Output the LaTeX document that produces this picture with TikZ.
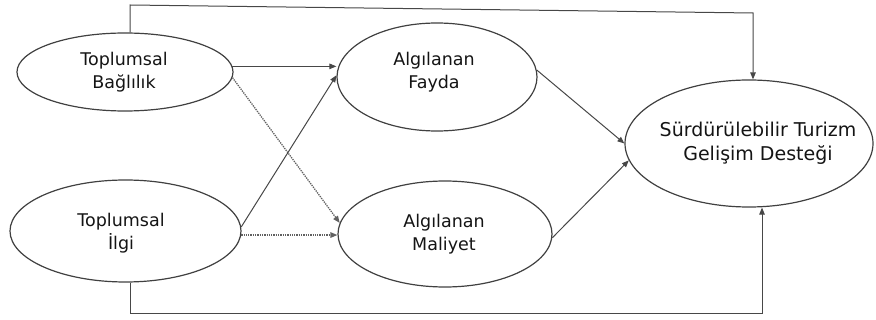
\documentclass[tikz,border=0pt]{standalone}
\usepackage{fontspec}
\setmainfont{DejaVu Sans}
\usetikzlibrary{shapes.geometric,arrows.meta}
\begin{document}
\begin{tikzpicture}[x=1pt,y=-1pt,
  ell/.style={ellipse, draw=black!75, line width=1.2pt, inner sep=0pt},
  txt/.style={align=center, inner sep=0pt, text=black!92,
    font=\fontsize{17.5}{23}\selectfont},
  bigtxt/.style={txt, font=\fontsize{19}{24}\selectfont},
  conn/.style={draw=black!72, line width=1pt,
    -{Triangle[length=7pt,width=5.5pt]}},
  dotconn/.style={conn, draw=black!62, line width=1.3pt, densely dotted}]
\useasboundingbox (0,0) rectangle (876,320);
% ellipses
\node[ell, minimum width=216pt, minimum height=78pt]  (e1) at (125,72) {};
\node[ell, minimum width=231pt, minimum height=102pt] (e2) at (125.5,231) {};
\node[ell, minimum width=200pt, minimum height=108pt] (e3) at (437,77) {};
\node[ell, minimum width=214pt, minimum height=106pt] (e4) at (445,234) {};
\node[ell, minimum width=248pt, minimum height=127pt] (e5) at (749,143.5) {};
% texts
\node[txt] (t1) at (124,72) {Toplumsal\\Bağlılık};
\node[txt] (t2) at (121,233) {Toplumsal\\İlgi};
\node[txt] (t3) at (434,72) {Algılanan\\Fayda};
\node[txt] (t4) at (444,234) {Algılanan\\Maliyet};
\node[bigtxt] (t5) at (758,143) {Sürdürülebilir Turizm\\Gelişim Desteği};
% routing coordinates
\coordinate (c1) at (130,5);
\coordinate (c2) at (753,13);
\coordinate (c3) at (130,314);
\coordinate (c4) at (762,314);
% direct effects to the outcome
\draw[conn] (e1.north -| c1) -- (c1) -- (c2) -- (c2 |- e5.north);
\draw[conn] (e2.south -| c3) -- (c3) -- (c4) -- (c4 |- e5.south);
% paths
\draw[conn] (e1.3) -- (e1.3 -| e3.west);
\draw[dotconn] (e1.-3) -- (e4.174);
\draw[conn] (e2.2) -- (e3.179);
\draw[dotconn] (e2.-2) -- (e2.-2 -| e4.west);
\draw[conn] (e3.4) -- (e5.180);
\draw[conn] (e4.-2) -- (e5.188);
\end{tikzpicture}
\end{document}
